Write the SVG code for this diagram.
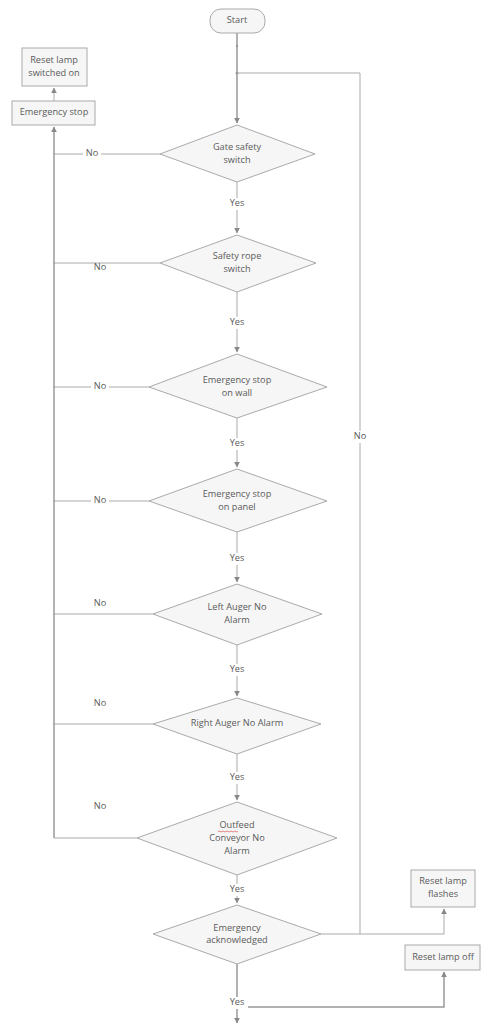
<svg xmlns="http://www.w3.org/2000/svg" width="481" height="1025" viewBox="0 0 481 1025">
<defs>
<marker id="arr" viewBox="0 0 10 10" refX="9" refY="5" markerWidth="6" markerHeight="6" orient="auto" markerUnits="userSpaceOnUse">
<path d="M0,0 L10,5 L0,10 z" fill="#888"/>
</marker>
</defs>
<style>
.n{fill:#f6f6f6;stroke:#aaa;stroke-width:1}
.t{font-family:"Open Sans","Noto Sans",sans-serif;font-size:9.2px;fill:#5a5a5a;text-anchor:middle;dominant-baseline:middle}
.c{fill:none;stroke:#aaa;stroke-width:1}
.m{fill:none;stroke:#999;stroke-width:1.5}
.bg{fill:#fff}
</style>
<rect width="481" height="1025" fill="#fff"/>
<g id="connectors">
<path class="m" d="M237,33 V123" marker-end="url(#arr)"/>
<circle cx="237" cy="46" r="1.2" fill="#999"/>
<circle cx="237" cy="73" r="1.5" fill="#999"/>
<path class="c" d="M237,73 H360 V934"/>
<path class="c" d="M237,182 V233" marker-end="url(#arr)"/>
<path class="c" d="M237,292 V352" marker-end="url(#arr)"/>
<path class="c" d="M237,418 V467" marker-end="url(#arr)"/>
<path class="c" d="M237,532 V582" marker-end="url(#arr)"/>
<path class="c" d="M237,645 V696" marker-end="url(#arr)"/>
<path class="c" d="M237,754 V800" marker-end="url(#arr)"/>
<path class="c" d="M237,875 V903" marker-end="url(#arr)"/>
<path class="m" d="M237,964 V1023" marker-end="url(#arr)"/>
<path class="m" d="M54,838 V127" marker-end="url(#arr)"/>
<path class="c" d="M54,101 V88" marker-end="url(#arr)"/>
<path class="c" d="M160,154 H54"/>
<path class="c" d="M160,263 H54"/>
<path class="c" d="M149,387 H54"/>
<path class="c" d="M149,501 H54"/>
<path class="c" d="M153,614 H54"/>
<path class="c" d="M153,724 H54"/>
<path class="c" d="M137,838 H54"/>
<circle cx="54" cy="154" r="1.2" fill="#aaa"/>
<circle cx="54" cy="263" r="1.2" fill="#aaa"/>
<circle cx="54" cy="387" r="1.2" fill="#aaa"/>
<circle cx="54" cy="501" r="1.2" fill="#aaa"/>
<circle cx="54" cy="614" r="1.2" fill="#aaa"/>
<circle cx="54" cy="724" r="1.2" fill="#aaa"/>
<path class="c" d="M321,934 H444 V909" marker-end="url(#arr)"/>
<path class="m" d="M247,1007 H444 V972" marker-end="url(#arr)"/>
<rect class="bg" x="83" y="148" width="18" height="12"/>
<text class="t" x="92" y="154">No</text>
<text class="t" x="100" y="268">No</text>
<rect class="bg" x="91" y="381" width="18" height="12"/>
<text class="t" x="100" y="387">No</text>
<rect class="bg" x="91" y="495" width="18" height="12"/>
<text class="t" x="100" y="501">No</text>
<text class="t" x="100" y="604">No</text>
<text class="t" x="100" y="704">No</text>
<text class="t" x="100" y="807">No</text>
<rect class="bg" x="351" y="431" width="18" height="12"/>
<text class="t" x="360" y="437">No</text>
<rect class="bg" x="226" y="198" width="22" height="12"/>
<text class="t" x="237" y="204">Yes</text>
<rect class="bg" x="226" y="317" width="22" height="12"/>
<text class="t" x="237" y="323">Yes</text>
<rect class="bg" x="226" y="438" width="22" height="12"/>
<text class="t" x="237" y="444">Yes</text>
<rect class="bg" x="226" y="553" width="22" height="12"/>
<text class="t" x="237" y="559">Yes</text>
<rect class="bg" x="226" y="664" width="22" height="12"/>
<text class="t" x="237" y="670">Yes</text>
<rect class="bg" x="226" y="772" width="22" height="12"/>
<text class="t" x="237" y="778">Yes</text>
<rect class="bg" x="226" y="884" width="22" height="12"/>
<text class="t" x="237" y="890">Yes</text>
<rect class="bg" x="226" y="997" width="22" height="12"/>
<text class="t" x="237" y="1003">Yes</text>
</g>
<g id="start">
<rect class="n" x="210" y="9" width="55" height="24" rx="11"/>
<text class="t" x="237" y="21">Start</text>
</g>
<g id="reset-on">
<rect class="n" x="22" y="48" width="65" height="38"/>
<text class="t" x="54" y="61">Reset lamp</text>
<text class="t" x="54" y="74">switched on</text>
</g>
<g id="emergency-stop">
<rect class="n" x="12" y="101" width="83" height="24"/>
<text class="t" x="54" y="113">Emergency stop</text>
</g>
<g id="d-gate">
<polygon class="n" points="237,125 315,154 237,182 160,154"/>
<text class="t" x="237" y="148">Gate safety</text>
<text class="t" x="237" y="161">switch</text>
</g>
<g id="d-rope">
<polygon class="n" points="237,235 316,263 237,292 160,263"/>
<text class="t" x="237" y="257">Safety rope</text>
<text class="t" x="237" y="270">switch</text>
</g>
<g id="d-wall">
<polygon class="n" points="237,354 327,387 237,418 149,387"/>
<text class="t" x="237" y="381">Emergency stop</text>
<text class="t" x="237" y="394">on wall</text>
</g>
<g id="d-panel">
<polygon class="n" points="237,469 327,501 237,532 149,501"/>
<text class="t" x="237" y="495">Emergency stop</text>
<text class="t" x="237" y="508">on panel</text>
</g>
<g id="d-left">
<polygon class="n" points="237,584 322,614 237,645 153,614"/>
<text class="t" x="237" y="608">Left Auger No</text>
<text class="t" x="237" y="621">Alarm</text>
</g>
<g id="d-right">
<polygon class="n" points="237,698 321,724 237,754 153,724"/>
<text class="t" x="237" y="724">Right Auger No Alarm</text>
</g>
<g id="d-outfeed">
<polygon class="n" points="237,802 337,838 237,875 137,838"/>
<text class="t" x="237" y="826">Outfeed</text>
<path d="M218,831.5 q1,-1 2,0 t2,0 t2,0 t2,0 t2,0 t2,0 t2,0 t2,0 t2,0 t2,0" fill="none" stroke="#e05050" stroke-width="0.7"/>
<text class="t" x="237" y="839">Conveyor No</text>
<text class="t" x="237" y="852">Alarm</text>
</g>
<g id="d-ack">
<polygon class="n" points="237,905 321,934 237,964 153,934"/>
<text class="t" x="237" y="929">Emergency</text>
<text class="t" x="237" y="941">acknowledged</text>
</g>
<g id="reset-flash">
<rect class="n" x="411" y="870" width="64" height="37"/>
<text class="t" x="443" y="882">Reset lamp</text>
<text class="t" x="443" y="895">flashes</text>
</g>
<g id="reset-off">
<rect class="n" x="405" y="945" width="75" height="25"/>
<text class="t" x="443" y="958">Reset lamp off</text>
</g>
</svg>
